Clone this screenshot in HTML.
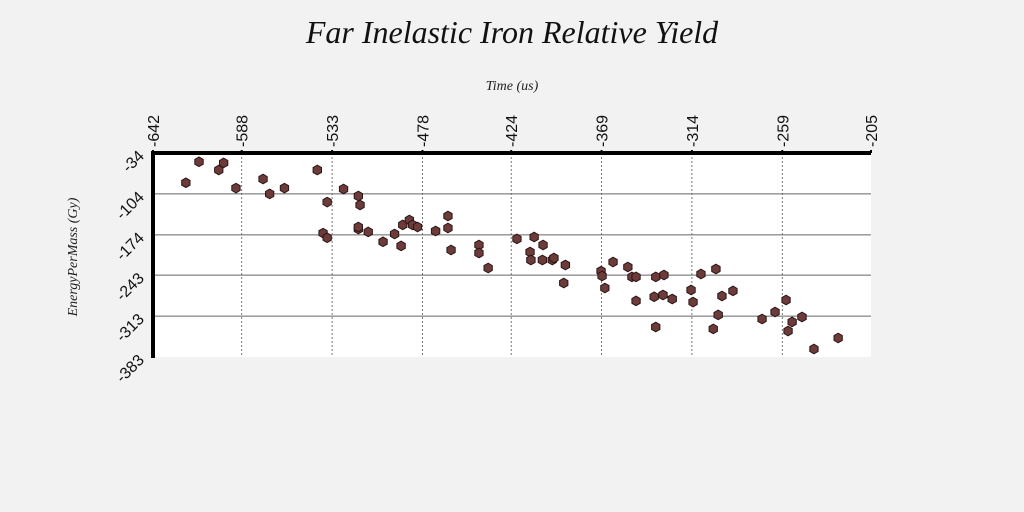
<!DOCTYPE html>
<html><head><meta charset="utf-8"><style>
body{margin:0;background:#f2f2f2;}
svg{display:block;font-family:"Liberation Sans",sans-serif;}
</style></head><body>
<svg id="c" width="1024" height="512">
<rect width="1024" height="512" fill="#f2f2f2"/>
<text x="512" y="43" text-anchor="middle" font-family="Liberation Serif,serif" font-style="italic" font-size="32" fill="#111">Far Inelastic Iron Relative Yield</text>
<text x="512" y="90" text-anchor="middle" font-family="Liberation Serif,serif" font-style="italic" font-size="14" fill="#222">Time (us)</text>
<text transform="translate(77,257) rotate(-90)" text-anchor="middle" font-family="Liberation Serif,serif" font-style="italic" font-size="14" fill="#222">EnergyPerMass (Gy)</text>
<rect x="153" y="153" width="718" height="204" fill="#fff"/>
<g id="grid"></g><g id="pts"></g><g id="axes"></g>
</svg>
<script>
const xTicks=[-642,-588,-533,-478,-424,-369,-314,-259,-205];
const yTicks=[-34,-104,-174,-243,-313,-383];
const xs=[-622,-614,-602,-599,-591.5,-575,-571,-562,-542,-538.5,-536,-536,-526,-517,-516,-517,-517,-511,-502,-495,-491,-490,-486,-484,-481,-470,-462.5,-462.5,-460.6,-443.6,-443.6,-438,-420.5,-412.5,-412,-410,-404.6,-405,-399,-398,-391,-392,-369.3,-368.7,-367,-362,-353,-350.5,-348,-348,-336,-337,-336,-331,-331.6,-326,-314.5,-313.3,-308.5,-301,-299.4,-298,-295.7,-289,-271.3,-263.4,-256.7,-255.5,-253,-247,-239.7,-225];
const ys=[-85,-49,-63,-51,-94,-78.5,-104,-94,-63,-171,-179,-118,-95.6,-107.6,-123,-164,-160.6,-169,-186,-172.6,-193,-157,-148.6,-157,-160.6,-167.4,-141.8,-162.3,-200,-191.4,-205,-230.7,-181,-203.4,-217,-177.7,-191.4,-217,-217,-213.6,-225.6,-256.4,-236,-244.4,-265,-220.5,-229,-246,-246,-287,-246,-280,-331.7,-242.7,-277,-283.8,-268.4,-289,-241,-335,-232.5,-311,-278.7,-270,-318,-306,-285.5,-338.5,-323,-314.6,-369.3,-350.5];
const X0=153,X1=871,Y0=153,Y1=357;
const sx=v=>X0+(v-xTicks[0])/(xTicks[xTicks.length-1]-xTicks[0])*(X1-X0);
const sy=v=>Y0+(v-yTicks[0])/(yTicks[yTicks.length-1]-yTicks[0])*(Y1-Y0);
const NS="http://www.w3.org/2000/svg";
function mk(t,a,p){const e=document.createElementNS(NS,t);for(const k in a)e.setAttribute(k,a[k]);p.appendChild(e);return e;}
const grid=document.getElementById('grid'),pts=document.getElementById('pts'),axes=document.getElementById('axes');
xTicks.forEach((v,i)=>{const x=sx(v);
 if(i>0&&i<xTicks.length-1){const l=mk('line',{x1:x,x2:x,y1:Y0,y2:Y1,stroke:'#555','stroke-width':0.8,'stroke-dasharray':'2,2'},grid);
 
 }
 const t=mk('text',{transform:`translate(${x+6},${Y0-6}) rotate(-90)`,'font-size':16,fill:'#111'},axes);t.textContent=v;
 
 
 const tk=mk('line',{x1:x,x2:x,y1:Y0-3,y2:Y0,stroke:'#000','stroke-width':2},axes);
 
 
});
yTicks.forEach((v,i)=>{const y=sy(v);
 if(i>0&&i<yTicks.length-1){const l=mk('line',{x1:X0,x2:X1,y1:y,y2:y,stroke:'#666','stroke-width':1},grid);
 
 }
 const t=mk('text',{transform:`translate(${X0-8},${y+4}) rotate(-45)`,'font-size':16,fill:'#111','text-anchor':'end'},axes);t.textContent=v;
 
 
});
const ax=mk('line',{x1:X0-2,x2:X1,y1:Y0,y2:Y0,stroke:'#000','stroke-width':4},axes);


const ay=mk('line',{x1:X0,x2:X0,y1:Y0-2,y2:Y1+1,stroke:'#000','stroke-width':4},axes);


function hex(cx,cy,r){let s=[];for(let k=0;k<6;k++){const a=Math.PI/6+k*Math.PI/3;s.push((cx+r*Math.cos(a)).toFixed(1)+','+(cy+r*Math.sin(a)).toFixed(1));}return s.join(' ');}
xs.forEach((v,i)=>{const p=mk('polygon',{points:hex(sx(v),sy(ys[i]),4.8),fill:'#6e3b3b',stroke:'#2a1515','stroke-width':1},pts);
 
 
});
</script>
</body></html>
